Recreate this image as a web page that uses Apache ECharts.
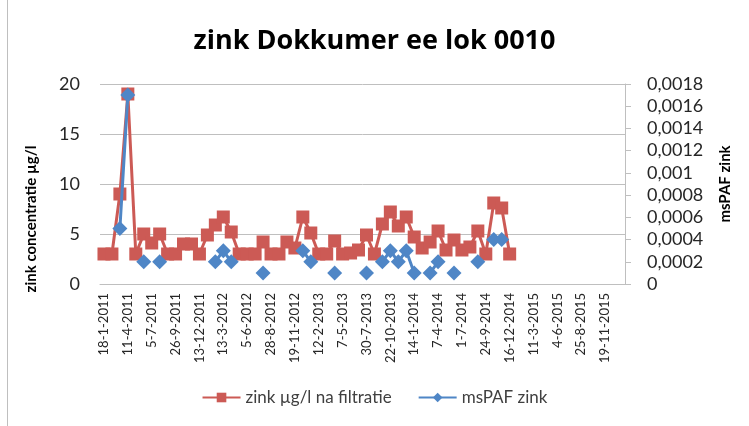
<!DOCTYPE html>
<html>
<head>
<meta charset="utf-8">
<title>zink Dokkumer ee lok 0010</title>
<script src="https://cdn.jsdelivr.net/npm/echarts@6/dist/echarts.min.js"></script>
<style>
  html, body { margin: 0; padding: 0; background: #ffffff; }
  #chart { width: 749px; height: 426px; }
</style>
</head>
<body>
<div id="chart"></div>
<script>
// Sampling dates (roughly every four weeks); every third one is labelled
const categories = [
  '18-1-2011', '15-2-2011', '15-3-2011', '11-4-2011', '9-5-2011', '6-6-2011',
  '5-7-2011', '2-8-2011', '30-8-2011', '26-9-2011', '24-10-2011', '21-11-2011',
  '13-12-2011', '17-1-2012', '14-2-2012', '13-3-2012', '10-4-2012', '8-5-2012',
  '5-6-2012', '3-7-2012', '31-7-2012', '28-8-2012', '25-9-2012', '23-10-2012',
  '19-11-2012', '18-12-2012', '15-1-2013', '12-2-2013', '12-3-2013', '9-4-2013',
  '7-5-2013', '4-6-2013', '2-7-2013', '30-7-2013', '27-8-2013', '24-9-2013',
  '22-10-2013', '19-11-2013', '17-12-2013', '14-1-2014', '11-2-2014', '11-3-2014',
  '7-4-2014', '6-5-2014', '3-6-2014', '1-7-2014', '29-7-2014', '26-8-2014',
  '24-9-2014', '21-10-2014', '18-11-2014', '16-12-2014', '13-1-2015', '10-2-2015',
  '11-3-2015', '8-4-2015', '6-5-2015', '4-6-2015', '30-6-2015', '28-7-2015',
  '25-8-2015', '22-9-2015', '20-10-2015', '19-11-2015', '17-12-2015', '14-1-2016'
];

// Zinc concentration after filtration (µg/l)
const zinkFiltratie = [
  3.0, 3.0, 9.0, 19.0, 3.0, 5.0, 4.1, 5.0, 3.0, 3.0, 4.0, 4.0,
  3.0, 4.9, 5.9, 6.7, 5.2, 3.0, 3.0, 3.0, 4.2, 3.0, 3.0, 4.2,
  3.6, 6.7, 5.1, 3.0, 3.0, 4.3, 3.0, 3.1, 3.4, 4.9, 3.0, 6.0,
  7.2, 5.8, 6.7, 4.7, 3.6, 4.2, 5.3, 3.4, 4.4, 3.4, 3.7, 5.3,
  3.0, 8.1, 7.6, 3.0, null, null, null, null, null, null, null, null,
  null, null, null, null, null, null
];

// msPAF for zinc (empty where not computed)
const msPafZink = [
  null, null, 0.0005, 0.0017, null, 0.0002, null, 0.0002, null, null, null, null,
  null, null, 0.0002, 0.0003, 0.0002, null, null, null, 0.0001, null, null, null,
  null, 0.0003, 0.0002, null, null, 0.0001, null, null, null, 0.0001, null, 0.0002,
  0.0003, 0.0002, 0.0003, 0.0001, null, 0.0001, 0.0002, null, 0.0001, null, null, 0.0002,
  null, 0.0004, 0.0004, null, null, null, null, null, null, null, null, null,
  null, null, null, null, null, null
];

// Tick values of both value axes
const leftTicks = [0, 5, 10, 15, 20];
const rightTicks = [0, 0.0002, 0.0004, 0.0006, 0.0008, 0.001, 0.0012, 0.0014, 0.0016, 0.0018];

const FONT = 'Lato, "Noto Sans", sans-serif';
const TITLE_FONT = '"Open Sans", Lato, sans-serif';
const RED = '#CC5A55';
const BLUE = '#4F86C6';

const chart = echarts.init(document.getElementById('chart'), null, { renderer: 'canvas' });

chart.setOption({
  animation: false,
  backgroundColor: '#ffffff',
  textStyle: { fontFamily: FONT },
  title: {
    text: 'zink Dokkumer ee lok 0010',
    left: 'center',
    top: 23,
    textStyle: { fontFamily: TITLE_FONT, fontSize: 27, fontWeight: 'bold', color: '#000000' }
  },
  graphic: [{
    type: 'line',
    shape: { x1: 7.5, y1: 0, x2: 7.5, y2: 426 },
    style: { stroke: '#bfbfbf', lineWidth: 1 }
  }],
  legend: {
    bottom: 15,
    left: 'center',
    itemWidth: 38,
    itemHeight: 12,
    itemGap: 26,
    textStyle: { fontFamily: FONT, fontSize: 17, color: '#404040' },
    data: ['zink µg/l na filtratie', 'msPAF zink']
  },
  grid: { left: 100, right: 124, top: 84, bottom: 142, containLabel: false },
  xAxis: {
    type: 'category',
    data: categories,
    boundaryGap: true,
    axisLine: { show: true, lineStyle: { color: '#bfbfbf', width: 1 } },
    axisTick: { show: false },
    axisLabel: {
      interval: 2,
      rotate: 90,
      margin: 9,
      fontSize: 13,
      fontFamily: FONT,
      color: '#262626'
    },
    splitLine: { show: false }
  },
  yAxis: [{
    type: 'value',
    min: leftTicks[0],
    max: leftTicks[leftTicks.length - 1],
    interval: leftTicks[1] - leftTicks[0],
    position: 'left',
    name: 'zink concentratie µg/l',
    nameLocation: 'middle',
    nameRotate: 90,
    nameGap: 61,
    nameTextStyle: { fontFamily: FONT, fontSize: 15, fontWeight: 'bold', color: '#000000', padding: [0, 70, 0, 0] },
    axisLine: { show: false },
    axisTick: { show: false },
    axisLabel: { fontSize: 18, fontFamily: FONT, color: '#262626', margin: 20 },
    splitLine: { show: true, lineStyle: { color: '#bfbfbf', width: 1 } }
  }, {
    type: 'value',
    min: rightTicks[0],
    max: rightTicks[rightTicks.length - 1],
    interval: rightTicks[1] - rightTicks[0],
    position: 'right',
    name: 'msPAF zink',
    nameLocation: 'middle',
    nameRotate: 90,
    nameGap: 93,
    nameTextStyle: { fontFamily: FONT, fontSize: 15, fontWeight: 'bold', color: '#000000' },
    axisLine: { show: true, lineStyle: { color: '#bfbfbf', width: 1 } },
    axisTick: { show: true, inside: false, length: 6, lineStyle: { color: '#bfbfbf' } },
    axisLabel: {
      fontSize: 18,
      fontFamily: FONT,
      color: '#262626',
      margin: 22,
      formatter: function (v) {
        if (v === 0) return '0';
        return String(+v.toFixed(4)).replace('.', ',');
      }
    },
    splitLine: { show: false }
  }],
  series: [{
    name: 'zink µg/l na filtratie',
    type: 'line',
    yAxisIndex: 0,
    data: zinkFiltratie,
    symbol: 'rect',
    symbolSize: 13,
    showAllSymbol: true,
    connectNulls: false,
    lineStyle: { color: RED, width: 3 },
    itemStyle: { color: RED },
    z: 2
  }, {
    name: 'msPAF zink',
    type: 'line',
    yAxisIndex: 1,
    data: msPafZink,
    symbol: 'diamond',
    symbolSize: 15,
    showAllSymbol: true,
    connectNulls: false,
    lineStyle: { color: BLUE, width: 3 },
    itemStyle: { color: BLUE },
    z: 3
  }]
});
</script>
</body>
</html>
